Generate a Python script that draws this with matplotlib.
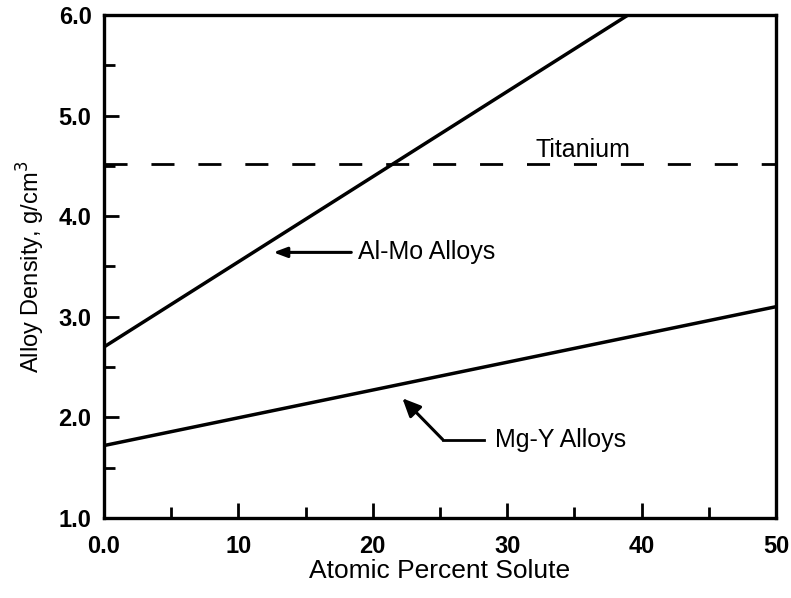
"""Alloy density vs atomic percent solute, Al-Mo and Mg-Y compared to titanium."""

import matplotlib

matplotlib.use("Agg")
import matplotlib.pyplot as plt

plt.rcParams["font.family"] = ["Liberation Sans", "DejaVu Sans"]

# data
al_mo_x = [0, 39]
al_mo_y = [2.70, 6.00]
mg_y_x = [0, 50]
mg_y_y = [1.72, 3.10]
titanium_x = [0, 50]
titanium_y = [4.52, 4.52]

x_ticks = [0, 10, 20, 30, 40, 50]
x_tick_labels = ["0.0", "10", "20", "30", "40", "50"]
y_ticks = [1.0, 2.0, 3.0, 4.0, 5.0, 6.0]
y_tick_labels = ["1.0", "2.0", "3.0", "4.0", "5.0", "6.0"]

# annotation anchors (data coords)
ALMO_TIP, ALMO_TAIL = (12.6, 3.64), (18.4, 3.64)
MGY_TIP, MGY_CORNER, MGY_TAIL = (22.2, 2.19), (25.2, 1.78), (28.3, 1.78)

fig = plt.figure(figsize=(7.91, 5.98), dpi=100)
ax = fig.add_axes([0.1315, 0.1338, 0.8495, 0.8412])

ax.plot(al_mo_x, al_mo_y, color="black", lw=2.5, solid_capstyle="butt")
ax.plot(mg_y_x, mg_y_y, color="black", lw=2.5, solid_capstyle="butt")
ax.plot(titanium_x, titanium_y, color="black", lw=2.0, dashes=(8.3, 8.6))

ax.text(32.1, 4.585, "Titanium", fontsize=18, ha="left", va="baseline")

# Al-Mo arrow pointing left to the line
ax.annotate("", xy=ALMO_TIP, xytext=ALMO_TAIL,
            arrowprops=dict(arrowstyle="-|>,head_length=0.8,head_width=0.3",
                            color="black", lw=2.2, shrinkA=0, shrinkB=0))
ax.text(18.9, 3.64, "Al-Mo Alloys", fontsize=18, ha="left", va="center")

# Mg-Y elbow arrow
ax.plot([MGY_CORNER[0], MGY_TAIL[0]], [MGY_CORNER[1], MGY_TAIL[1]], color="black", lw=2.0)
ax.annotate("", xy=MGY_TIP, xytext=MGY_CORNER,
            arrowprops=dict(arrowstyle="-|>,head_length=1.1,head_width=0.5",
                            color="black", lw=2.2, shrinkA=0, shrinkB=0))
ax.text(29.1, 1.78, "Mg-Y Alloys", fontsize=18, ha="left", va="center")

ax.set_xlim(0, 50)
ax.set_ylim(1.0, 6.0)
ax.set_xticks(x_ticks)
ax.set_xticklabels(x_tick_labels, fontweight="bold")
ax.set_yticks(y_ticks)
ax.set_yticklabels(y_tick_labels, fontweight="bold")
ax.set_xticks([5, 15, 25, 35, 45], minor=True)
ax.set_yticks([1.5, 2.5, 3.5, 4.5, 5.5], minor=True)
ax.tick_params(which="major", direction="in", length=11, width=2, labelsize=17)
ax.tick_params(axis="y", which="major", pad=9)
ax.tick_params(axis="x", which="major", pad=12)
ax.tick_params(which="minor", direction="in", length=8, width=2)
ax.tick_params(top=False, right=False, which="both")

for s in ax.spines.values():
    s.set_linewidth(2.4)

ax.set_xlabel("Atomic Percent Solute", fontsize=19, labelpad=1)
ax.set_ylabel("Alloy Density, g/cm$^3$", fontsize=17, labelpad=8)

fig.savefig("out.png", dpi=100)
plt.close(fig)
